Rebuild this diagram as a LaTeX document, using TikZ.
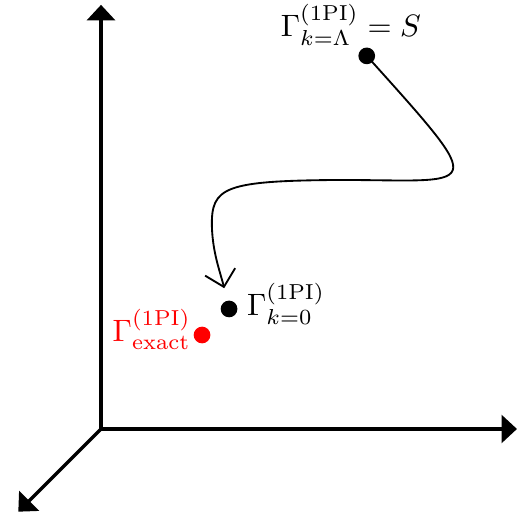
\documentclass[tikz,border=0pt]{standalone}
\usepackage{amsmath}
\usepackage{tikz}
\usetikzlibrary{positioning,arrows.meta}
\tikzset{
  axis/.style={line width=1.1pt, -{Triangle[length=5pt,width=9pt]}},
  dot/.style={circle, fill=#1, inner sep=0pt, minimum size=5.4pt},
  dot/.default={black},
  flow/.style={semithick, -{Straight Barb[length=5pt,width=10pt]}},
  lbl/.style={inner sep=1.5pt}
}
\begin{document}
\begin{tikzpicture}
  \useasboundingbox (-1.148,-1.023) rectangle (4.727,4.875);
  \coordinate (o) at (0,0);
  \coordinate (xend) at (4.727,0);
  \coordinate (yend) at (0,4.82);
  \coordinate (zend) at (-0.94,-0.94);
  \draw[axis] (o) -- (xend);
  \draw[axis] (o) -- (yend);
  \draw[axis] (o) -- (zend);
  \node[dot] (bare) at (3.02,4.24) {};
  \node[dot] (kzero) at (1.455,1.364) {};
  \node[dot=red] (exact) at (1.148,1.068) {};
  \node[lbl] (lbare) at (2.84,4.59) {$\Gamma^{(\mathrm{1PI})}_{k=\Lambda}=S$};
  \node[lbl, anchor=west] (lkzero) at (1.60,1.42) {$\Gamma^{(\mathrm{1PI})}_{k=0}$};
  \node[lbl, anchor=east, text=red] (lexact) at (1.08,1.13) {$\Gamma^{(\mathrm{1PI})}_{\mathrm{exact}}$};
  \coordinate (tip) at (1.40,1.60);
  \draw[flow] (bare.center) .. controls (4.45,2.65) and (4.3,2.83) .. (2.7,2.83)
    .. controls (1.4,2.82) and (1.25,2.75) .. (1.26,2.3)
    .. controls (1.27,2.0) and (1.35,1.8) .. (tip);
\end{tikzpicture}
\end{document}
